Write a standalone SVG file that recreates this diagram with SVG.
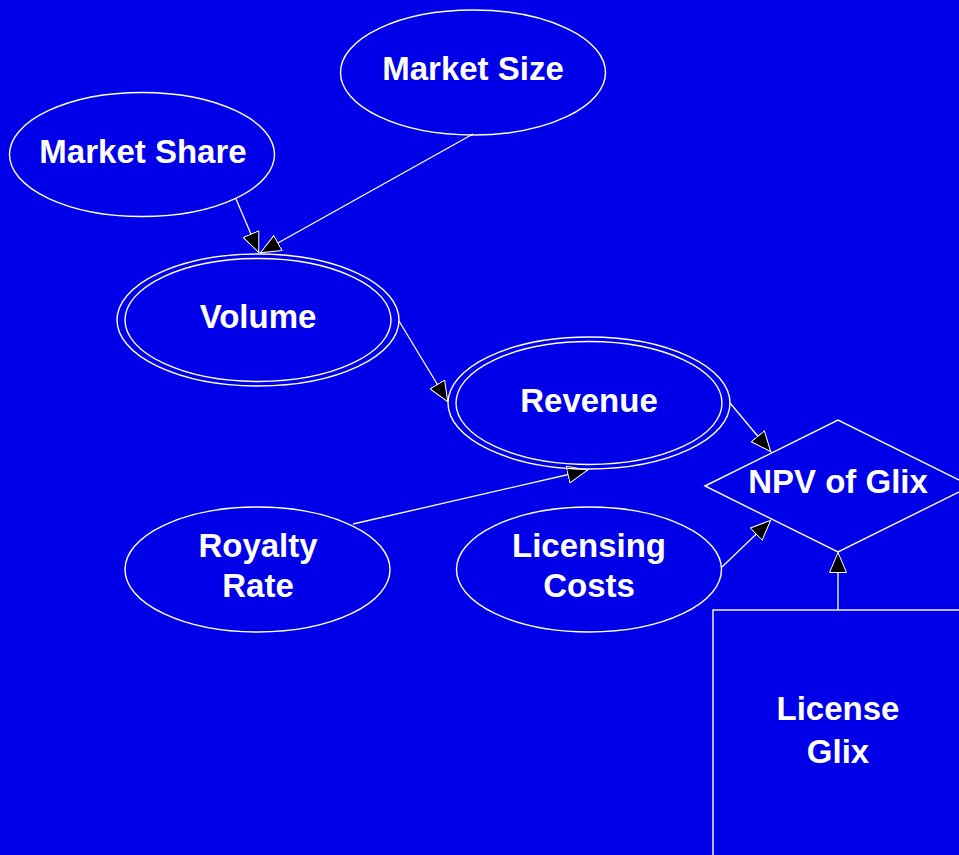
<svg xmlns="http://www.w3.org/2000/svg" width="959" height="855" viewBox="0 0 959 855">
<defs>
<style>
.shape{fill:none;stroke:#ffffff;stroke-width:1.4}
.edge{fill:none;stroke:#ffffff;stroke-width:1.3}
.lbl{font-family:"Liberation Sans",Arial,sans-serif;font-weight:bold;font-size:33px;fill:#ffffff;text-anchor:middle}
</style>
<marker id="arr" viewBox="0 0 21 18" refX="21" refY="9" markerWidth="21" markerHeight="18" markerUnits="userSpaceOnUse" orient="auto">
<path d="M0.5,0.5 L20.5,9 L0.5,17.5 Z" fill="#000000" stroke="#ffffff" stroke-width="1"/>
</marker>
</defs>
<rect x="0" y="0" width="959" height="855" fill="#0000e8"/>
<g id="connectors">
<line class="edge" x1="236" y1="199" x2="259" y2="253" marker-end="url(#arr)"/>
<line class="edge" x1="473" y1="134" x2="260" y2="253" marker-end="url(#arr)"/>
<line class="edge" x1="399" y1="321" x2="448" y2="402" marker-end="url(#arr)"/>
<line class="edge" x1="353" y1="524" x2="588" y2="470" marker-end="url(#arr)"/>
<line class="edge" x1="730" y1="403" x2="771" y2="452" marker-end="url(#arr)"/>
<line class="edge" x1="722" y1="567" x2="771" y2="520" marker-end="url(#arr)"/>
<line class="edge" x1="838" y1="610" x2="838" y2="552" marker-end="url(#arr)"/>
</g>
<g id="market-size">
<ellipse class="shape" cx="473" cy="72.5" rx="132.5" ry="62.5"/>
<text class="lbl" x="473" y="80">Market Size</text>
</g>
<g id="market-share">
<ellipse class="shape" cx="142" cy="154.5" rx="132.5" ry="62"/>
<text class="lbl" x="143" y="163">Market Share</text>
</g>
<g id="volume">
<ellipse class="shape" cx="258" cy="320" rx="141" ry="66"/>
<ellipse class="shape" cx="258" cy="320" rx="133" ry="61.5"/>
<text class="lbl" x="258" y="328">Volume</text>
</g>
<g id="revenue">
<ellipse class="shape" cx="589" cy="403" rx="141" ry="66"/>
<ellipse class="shape" cx="589" cy="403" rx="133" ry="61.5"/>
<text class="lbl" x="589" y="412">Revenue</text>
</g>
<g id="royalty-rate">
<ellipse class="shape" cx="257.5" cy="569.5" rx="132.5" ry="62.5"/>
<text class="lbl" x="258" y="557">Royalty</text>
<text class="lbl" x="258" y="597">Rate</text>
</g>
<g id="licensing-costs">
<ellipse class="shape" cx="589" cy="569.5" rx="132.5" ry="62.5"/>
<text class="lbl" x="589" y="557">Licensing</text>
<text class="lbl" x="589" y="597">Costs</text>
</g>
<g id="npv-of-glix">
<polygon class="shape" points="705,486 838,420 971,486 838,552"/>
<text class="lbl" x="838" y="493">NPV of Glix</text>
</g>
<g id="license-glix">
<rect class="shape" x="713" y="610" width="300" height="300"/>
<text class="lbl" x="838" y="720">License</text>
<text class="lbl" x="838" y="763">Glix</text>
</g>
</svg>
